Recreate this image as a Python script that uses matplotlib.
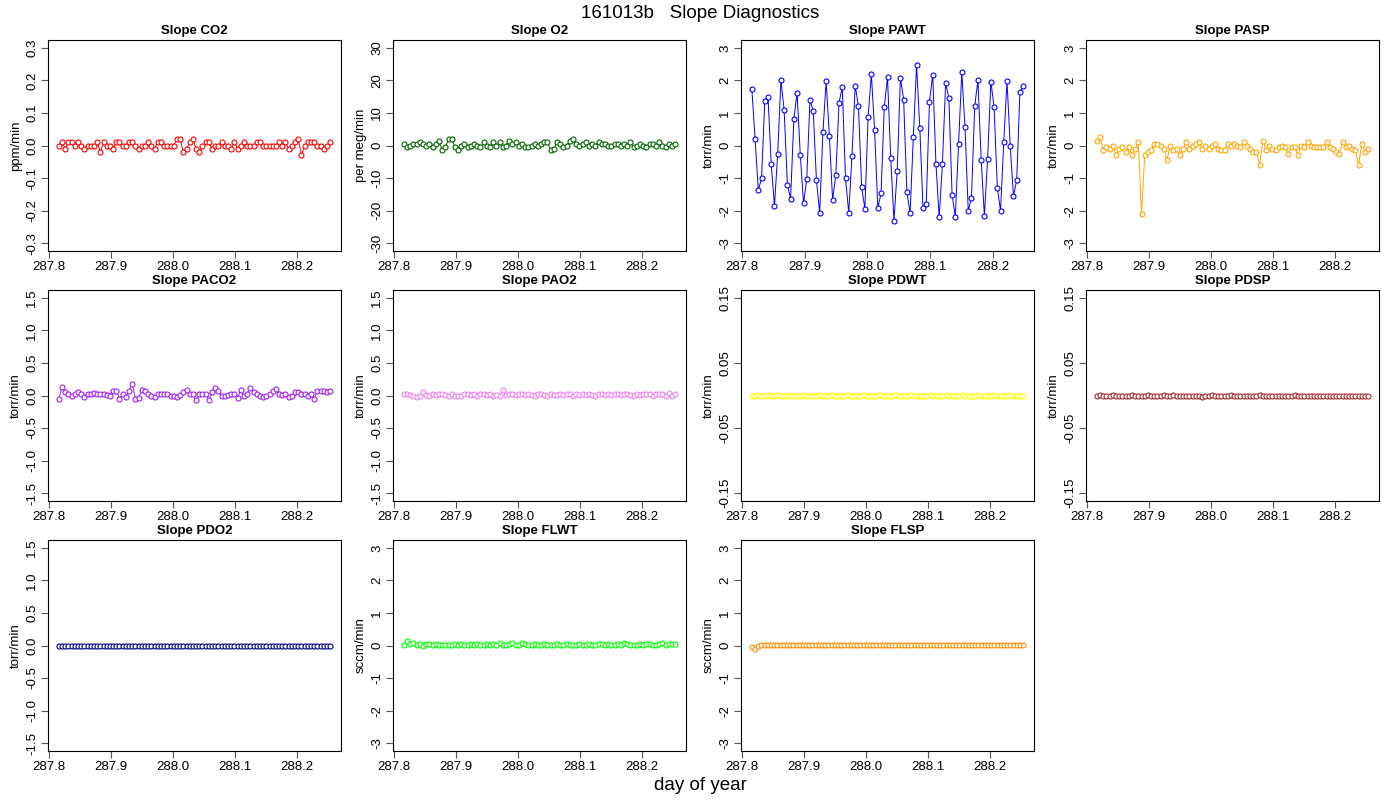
import numpy as np
import matplotlib
matplotlib.use("Agg")
import matplotlib.pyplot as plt
plt.rcParams['font.family'] = 'Liberation Sans'

T0 = 287.816
DT = 0.00514

co2 = [0.00,0.01,-0.01,0.01,0.01,0.00,0.01,0.00,-0.01,0.00,0.00,0.00,0.01,-0.02,0.01,0.00,0.00,-0.01,0.01,0.01,
       0.00,0.00,0.01,0.01,0.00,-0.01,0.00,0.00,0.01,0.00,-0.01,0.01,0.01,0.00,0.00,0.00,0.00,0.02,0.02,-0.02,
       -0.01,0.01,0.02,-0.01,-0.02,0.00,0.01,0.01,-0.01,0.00,0.00,0.01,0.00,0.00,-0.01,0.01,-0.01,0.00,0.01,0.00,
       0.00,0.00,0.01,0.01,0.00,0.00,0.00,0.00,0.00,0.01,0.00,0.01,-0.01,0.00,0.01,0.02,-0.03,0.00,0.01,0.01,
       0.01,0.00,0.00,-0.01,0.00,0.01]
o2 = [0.5,-0.5,0.0,0.5,0.5,1.0,0.5,0.0,0.5,-0.5,0.5,1.5,-1.5,-0.5,2.0,2.0,-0.5,-1.5,0.0,0.5,
      -0.5,0.0,0.5,0.0,-0.5,1.0,0.0,-0.5,1.0,0.0,1.0,-0.5,0.0,1.5,0.5,1.0,0.0,0.5,-0.5,-0.5,
      0.0,0.5,0.0,0.5,1.0,1.0,-1.5,-1.0,1.0,0.5,-0.5,0.0,1.5,2.0,0.5,0.0,0.5,1.0,0.0,0.5,
      0.0,1.0,0.5,0.5,0.0,0.0,0.5,0.5,0.0,0.5,0.0,1.0,-0.5,0.0,0.5,0.0,-0.5,0.5,0.5,0.0,
      1.0,0.0,-0.5,0.5,0.0,0.5]
pawt = [1.73,0.20,-1.37,-1.01,1.38,1.50,-0.58,-1.85,-0.25,2.01,1.09,-1.21,-1.63,0.80,1.62,-0.29,-1.78,-1.03,1.41,1.06,
        -1.06,-2.07,0.40,1.98,0.29,-1.67,-0.91,1.32,1.79,-1.01,-2.07,-0.32,1.84,1.20,-1.28,-1.95,0.89,2.19,0.49,-1.92,
        -1.47,1.17,2.09,-0.39,-2.31,-0.78,2.08,1.41,-1.42,-2.08,0.27,2.47,0.55,-1.92,-1.80,1.35,2.18,-0.56,-2.21,-0.58,
        1.92,1.45,-1.51,-2.19,0.04,2.25,0.56,-2.01,-1.60,1.20,2.01,-0.43,-2.16,-0.41,1.96,1.19,-1.29,-2.01,0.12,1.98,
        0.00,-1.55,-1.07,1.65,1.82]
pasp = [0.15,0.25,-0.15,-0.05,-0.10,0.00,-0.30,-0.10,-0.05,-0.20,-0.05,-0.30,-0.10,0.10,-2.10,-0.30,-0.20,-0.15,0.05,0.05,
        0.00,-0.10,-0.45,0.00,-0.15,-0.10,-0.30,-0.10,0.10,-0.10,0.00,0.05,0.10,-0.10,0.00,-0.10,0.00,0.05,-0.10,-0.15,
        -0.15,0.05,0.00,0.05,0.00,-0.05,0.10,0.00,-0.10,-0.20,-0.20,-0.60,0.15,-0.15,0.00,-0.10,-0.15,-0.05,0.00,-0.05,
        -0.25,-0.05,-0.05,-0.30,0.00,-0.05,0.10,0.00,-0.05,-0.05,-0.05,-0.05,0.10,-0.05,-0.10,-0.20,-0.25,0.10,-0.05,0.00,
        -0.10,-0.15,-0.60,0.05,-0.20,-0.10]
paco2 = [-0.05,0.13,0.05,0.03,0.00,0.02,0.05,0.03,-0.02,0.03,0.03,0.04,0.03,0.02,0.02,0.01,0.00,0.07,0.07,-0.05,
         0.02,-0.03,0.07,0.18,-0.05,-0.04,0.09,0.07,0.03,-0.01,-0.02,0.02,0.02,0.03,0.02,0.00,-0.01,-0.02,0.01,0.05,
         0.08,0.02,0.02,-0.07,0.03,0.03,0.03,-0.07,0.05,0.11,0.07,-0.01,-0.01,0.01,0.02,0.03,-0.04,0.09,-0.01,0.03,
         0.12,0.05,0.02,-0.01,-0.02,0.00,0.02,0.07,0.10,0.02,0.01,0.03,-0.02,0.00,0.05,0.05,0.03,0.02,0.00,0.02,
         -0.05,0.07,0.07,0.07,0.05,0.07]
pao2 = [0.02,0.02,0.01,0.00,-0.02,0.00,0.05,0.01,0.00,0.02,0.01,0.03,0.02,0.01,0.00,0.02,0.00,0.00,-0.01,0.02,
        0.02,0.01,0.02,0.00,0.02,0.02,0.01,0.02,0.00,0.01,0.00,0.08,0.01,0.02,0.02,0.01,0.02,0.02,0.01,0.02,
        0.01,0.00,0.02,0.02,0.01,0.00,0.02,0.01,0.01,0.02,0.01,0.02,0.02,0.00,0.02,0.01,0.02,0.01,0.02,0.01,
        0.00,0.02,0.02,0.01,0.02,0.01,0.02,0.02,0.01,0.02,0.02,0.01,0.00,0.02,0.01,0.02,0.02,0.02,0.00,0.02,
        0.02,0.02,0.00,0.04,0.00,0.02]
pdwt = [0.000,0.000,0.001,0.000,0.000,0.001,0.000,0.000,0.001,0.000,0.000,0.000,0.001,0.000,0.000,0.000,0.001,0.000,0.000,0.000,
        0.000,0.001,0.000,0.000,0.000,0.001,0.000,0.000,0.000,0.000,0.001,0.000,0.000,0.000,0.000,0.001,0.000,0.000,0.000,0.000,
        0.001,0.000,0.000,0.000,0.000,0.001,0.000,0.000,0.000,0.000,0.001,0.000,0.000,0.000,0.000,0.000,0.001,0.000,0.000,0.000,
        0.000,0.001,0.000,0.000,0.000,0.000,0.001,0.000,0.000,0.000,0.000,0.001,0.000,0.000,0.000,0.000,0.001,0.000,0.000,0.000,
        0.000,0.001,0.000,0.000,0.000,0.000]
pdsp = [0.000,0.001,0.000,-0.001,0.000,0.001,0.000,0.000,-0.001,0.000,0.000,0.001,0.000,0.000,0.000,0.000,0.001,0.000,0.000,0.000,
        0.000,0.001,0.000,0.000,0.001,0.000,0.000,0.000,0.000,0.000,-0.001,0.000,0.000,-0.002,0.000,0.000,0.001,0.000,0.000,0.000,
        0.000,0.000,0.001,0.000,0.000,0.000,0.000,0.000,0.000,0.000,0.000,0.001,0.000,0.000,0.000,0.000,0.000,0.000,0.000,0.000,
        0.000,0.000,0.001,0.000,0.000,-0.001,0.000,0.000,0.000,0.000,0.000,0.000,0.000,0.000,0.000,0.000,0.000,0.000,0.000,0.000,
        0.000,0.000,0.000,0.000,0.000,0.000]
pdo2 = [0.0,0.0,0.0,0.0,0.0,0.0,0.0,0.0,0.0,0.0,0.0,0.0,0.0,0.0,0.0,0.0,0.0,0.0,0.0,0.0,
        0.0,0.0,0.0,0.0,0.0,0.0,0.0,0.0,0.0,0.0,0.0,0.0,0.0,0.0,0.0,0.0,0.0,0.0,0.0,0.0,
        0.0,0.0,0.0,0.0,0.0,0.0,0.0,0.0,0.0,0.0,0.0,0.0,0.0,0.0,0.0,0.0,0.0,0.0,0.0,0.0,
        0.0,0.0,0.0,0.0,0.0,0.0,0.0,0.0,0.0,0.0,0.0,0.0,0.0,0.0,0.0,0.0,0.0,0.0,0.0,0.0,
        0.0,0.0,0.0,0.0,0.0,0.0]
flwt = [0.02,0.15,0.05,0.08,0.02,0.05,0.00,0.04,0.05,0.03,0.05,0.02,0.03,0.02,0.03,0.02,0.04,0.03,0.05,0.02,
        0.03,0.04,0.02,0.05,0.03,0.02,0.05,0.03,0.04,0.02,0.08,0.03,0.02,0.04,0.07,0.02,0.03,0.09,0.05,0.02,
        0.03,0.04,0.02,0.03,0.04,0.02,0.03,0.03,0.05,0.02,0.03,0.04,0.02,0.03,0.03,0.05,0.02,0.03,0.04,0.02,
        0.03,0.05,0.04,0.02,0.06,0.03,0.02,0.04,0.03,0.07,0.05,0.02,0.03,0.03,0.04,0.02,0.05,0.04,0.03,0.02,
        0.05,0.08,0.03,0.05,0.04,0.04]
flsp = [-0.05,-0.10,0.00,0.02,0.03,0.01,0.02,0.03,0.02,0.01,0.02,0.03,0.01,0.02,0.01,0.02,0.03,0.01,0.02,0.01,
        0.02,0.03,0.02,0.01,0.02,0.01,0.02,0.03,0.01,0.02,0.01,0.02,0.03,0.02,0.01,0.02,0.01,0.02,0.03,0.02,
        0.01,0.02,0.01,0.02,0.03,0.01,0.02,0.01,0.02,0.03,0.02,0.01,0.02,0.01,0.02,0.03,0.02,0.01,0.02,0.01,
        0.02,0.03,0.02,0.01,0.02,0.01,0.02,0.03,0.02,0.01,0.02,0.01,0.02,0.03,0.02,0.01,0.02,0.01,0.02,0.03,
        0.02,0.01,0.02,0.03,0.02,0.01]

panels = [
    ("Slope CO2", co2, "ppm/min", "#FF0000", 0.3, [-0.3,-0.2,-0.1,0.0,0.1,0.2,0.3], "{:.1f}"),
    ("Slope O2", o2, "per meg/min", "#006400", 30, [-30,-20,-10,0,10,20,30], "{:.0f}"),
    ("Slope PAWT", pawt, "torr/min", "#0000FF", 3, [-3,-2,-1,0,1,2,3], "{:.0f}"),
    ("Slope PASP", pasp, "torr/min", "#FFA500", 3, [-3,-2,-1,0,1,2,3], "{:.0f}"),
    ("Slope PACO2", paco2, "torr/min", "#A020F0", 1.5, [-1.5,-1.0,-0.5,0.0,0.5,1.0,1.5], "{:.1f}"),
    ("Slope PAO2", pao2, "torr/min", "#EE82EE", 1.5, [-1.5,-1.0,-0.5,0.0,0.5,1.0,1.5], "{:.1f}"),
    ("Slope PDWT", pdwt, "torr/min", "#FFFF00", 0.15, [-0.15,-0.05,0.05,0.15], "{:.2f}"),
    ("Slope PDSP", pdsp, "torr/min", "#A52A2A", 0.15, [-0.15,-0.05,0.05,0.15], "{:.2f}"),
    ("Slope PDO2", pdo2, "torr/min", "#000080", 1.5, [-1.5,-1.0,-0.5,0.0,0.5,1.0,1.5], "{:.1f}"),
    ("Slope FLWT", flwt, "sccm/min", "#00FF00", 3, [-3,-2,-1,0,1,2,3], "{:.0f}"),
    ("Slope FLSP", flsp, "sccm/min", "#FF8C00", 3, [-3,-2,-1,0,1,2,3], "{:.0f}"),
]
xticks = [287.8, 287.9, 288.0, 288.1, 288.2]

W, H = 1400, 800
fig = plt.figure(figsize=(14, 8), dpi=100)
col_x = [48, 393, 741, 1086]
row_y = [40, 290, 540]
pw, ph = 293, 211

for i, (title, vals, ylab, color, lim, yt, fmt) in enumerate(panels):
    r, c = divmod(i, 4)
    ax = fig.add_axes([col_x[c]/W, 1 - (row_y[r]+ph)/H, pw/W, ph/H])
    x = T0 + np.arange(len(vals)) * DT
    ax.plot(x, vals, color=color, lw=0.7, marker='o', ms=3.6, mfc='white', mec=color, mew=0.8)
    ax.set_ylim(-lim*1.08, lim*1.08)
    xr = x[-1] - x[0]
    ax.set_xlim(x[0] - 0.04*xr, x[-1] + 0.04*xr)
    ax.set_xticks(xticks)
    ax.set_xticklabels([f"{t:.1f}" for t in xticks], fontsize=9.5)
    ax.set_yticks(yt)
    ax.set_yticklabels([fmt.format(t) for t in yt], fontsize=9.5, rotation=90, va='center')
    ax.set_ylabel(ylab, fontsize=9.5, labelpad=3)
    ax.set_title(title, fontsize=9.5, fontweight='bold', pad=4)
    ax.tick_params(direction='out', length=5, width=0.8, pad=2, color='#555555')
    for s in ax.spines.values():
        s.set_linewidth(0.8)

fig.text(0.5, 1 - 14/H, "161013b   Slope Diagnostics", ha='center', va='center', fontsize=13.5)
fig.text(0.5, 1 - 785/H, "day of year", ha='center', va='center', fontsize=13.5)
fig.savefig("out.png", dpi=100)
